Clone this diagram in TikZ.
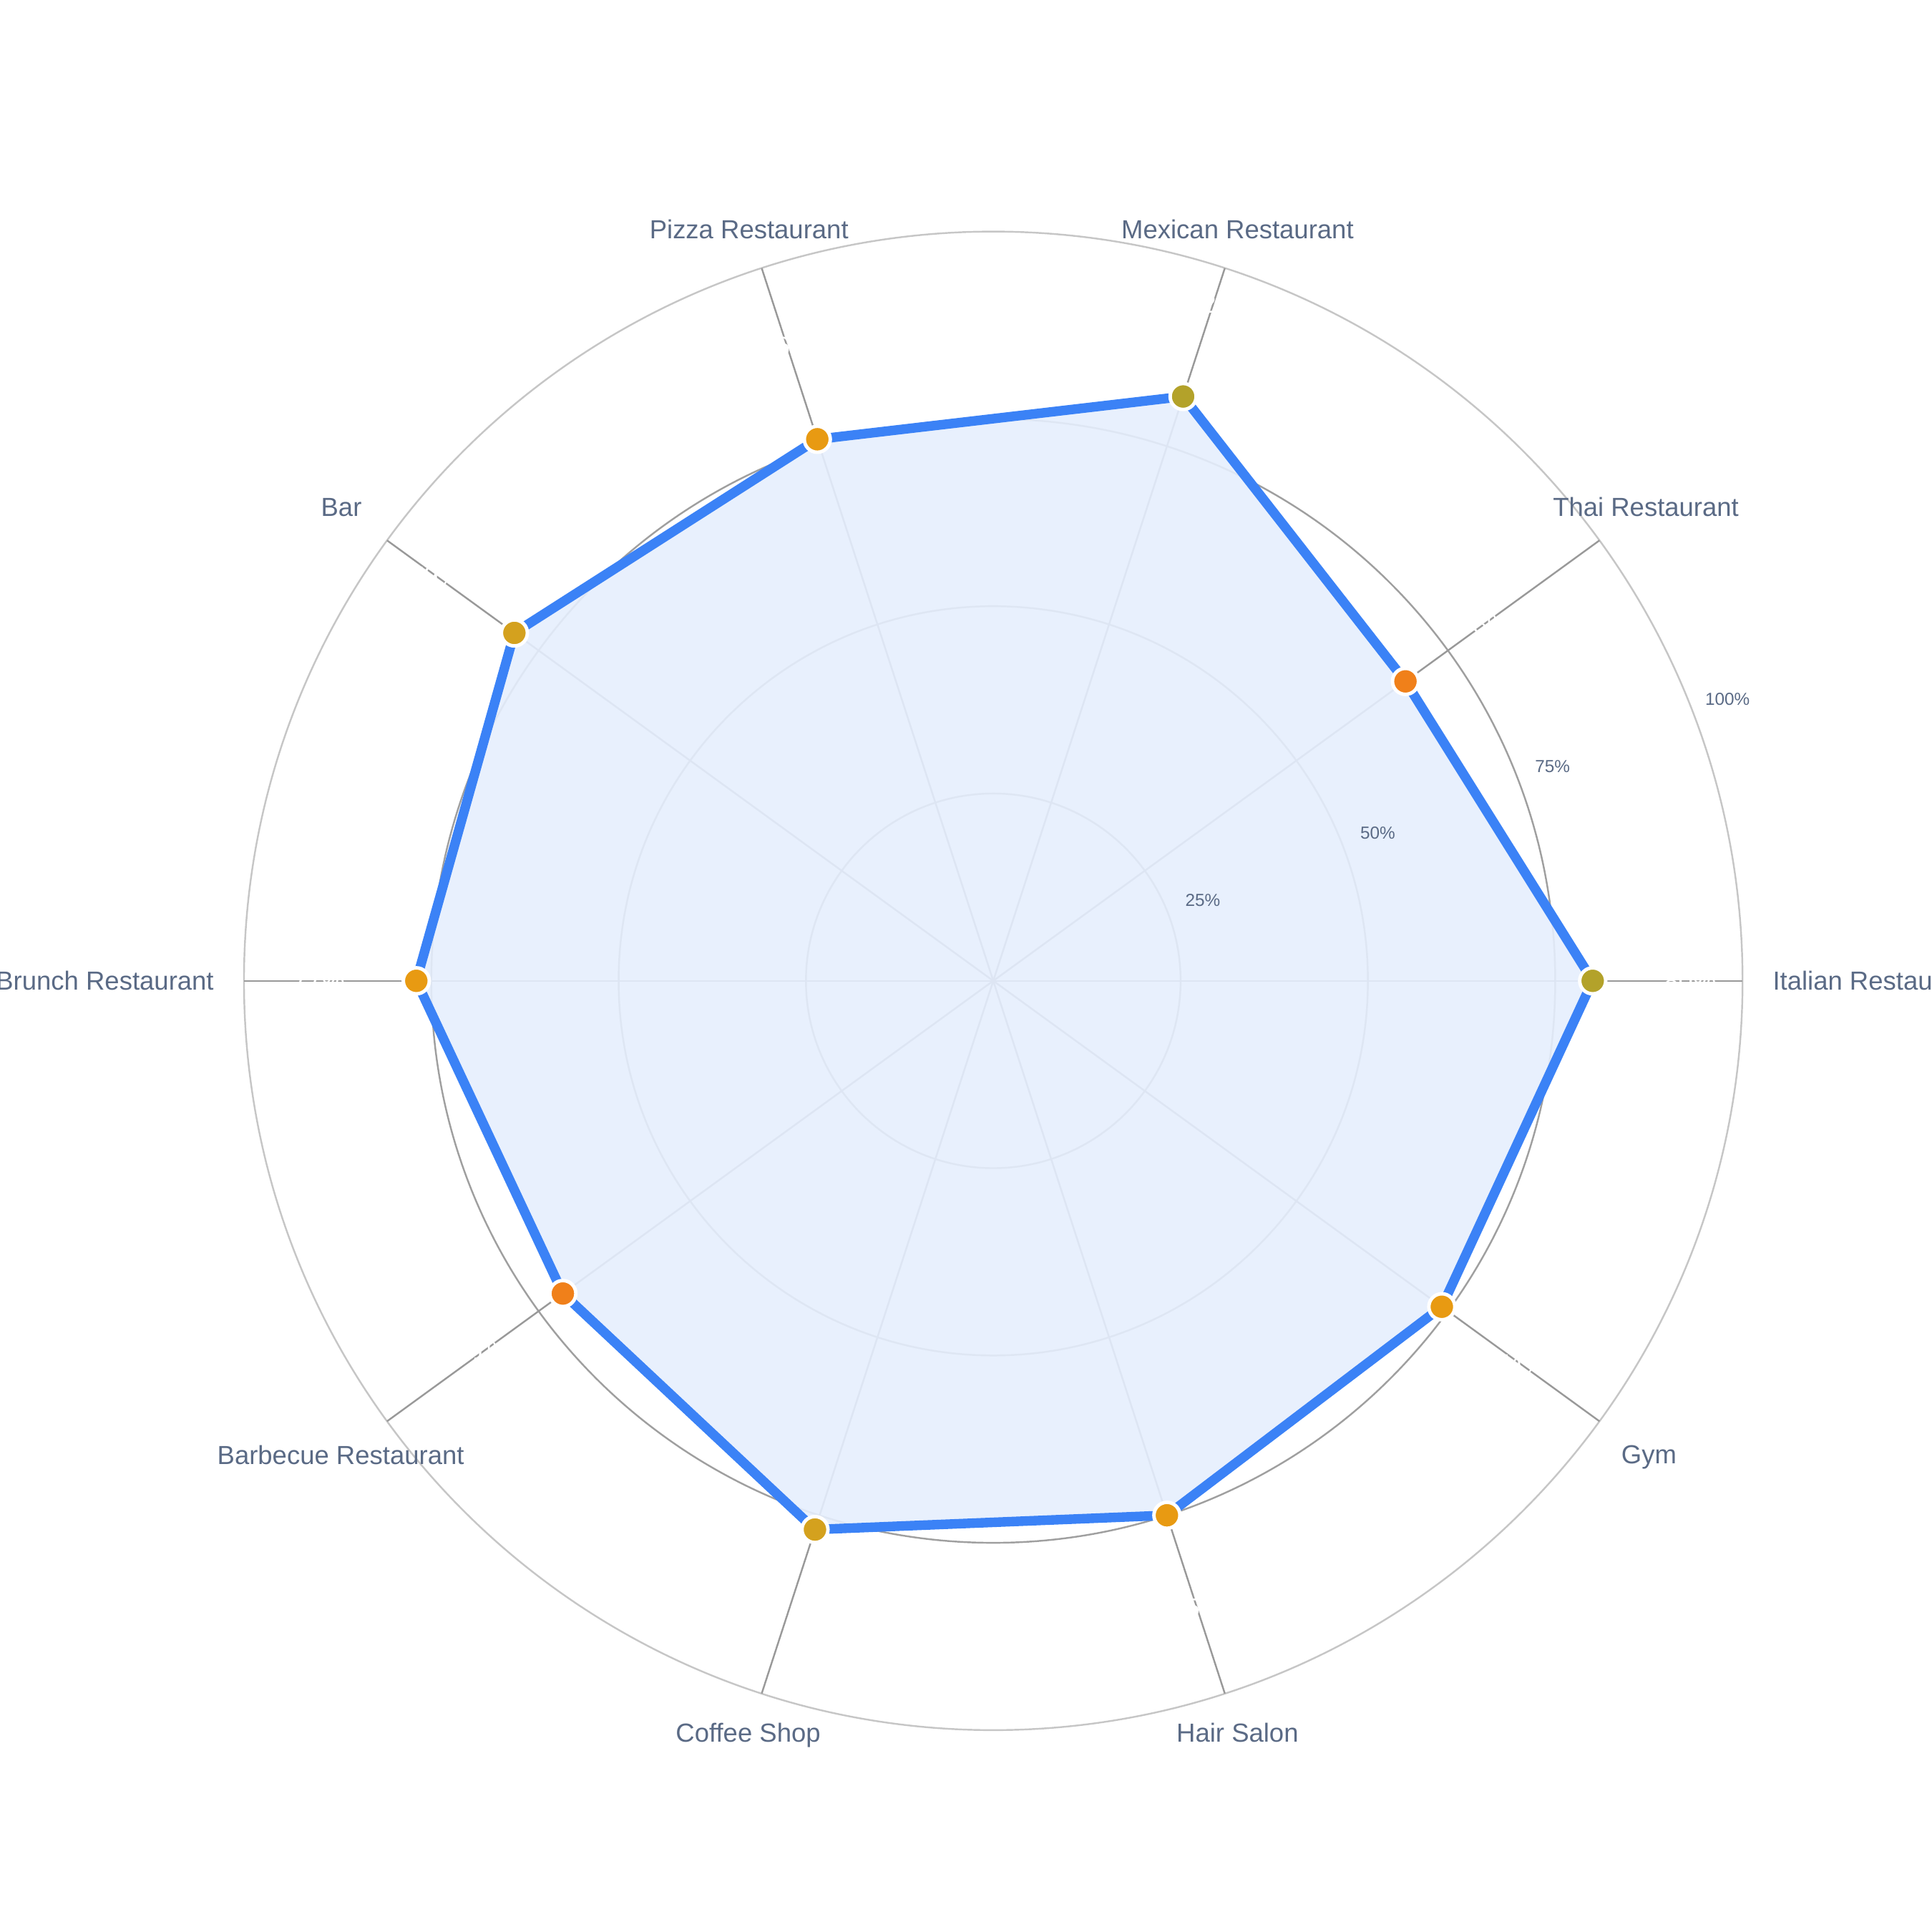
\documentclass[tikz,border=0pt]{standalone}
\usepackage{fontspec}
\setmainfont{Liberation Sans}
\usetikzlibrary{calc}
\definecolor{axislbl}{HTML}{5A6A85}
\definecolor{lineblue}{HTML}{3B82F6}
\definecolor{fillblue}{HTML}{E5EEFD}
\definecolor{ptolive}{HTML}{B3A22A}
\definecolor{ptorange}{HTML}{F0801A}
\definecolor{ptamber}{HTML}{E89A12}
\definecolor{ptgold}{HTML}{D4A11E}
\tikzset{
  ring/.style={draw=gray!75, line width=0.4pt},
  outerring/.style={draw=gray!45, line width=0.4pt},
  spoke/.style={draw=gray!80, line width=0.4pt},
  catlabel/.style={text=axislbl, font=\fontsize{6}{7}\selectfont},
  ticklabel/.style={text=axislbl, font=\fontsize{4}{5}\selectfont},
  vallabel/.style={text=white, font=\fontsize{6}{7}\selectfont},
  dot/.style={circle, draw=white, line width=0.8pt, minimum size=2.1mm, inner sep=0pt}
}
\begin{document}
\begin{tikzpicture}
\useasboundingbox (0,0) rectangle (15.6,15.6);
\coordinate (c) at (8.02,7.68);
\def\R{6.05}
% grid
\draw[outerring] (c) circle (\R);
\foreach \f in {0.25,0.5,0.75}
  \draw[ring] (c) circle ({\f*\R});
\foreach \a in {0,36,...,324}
  \draw[spoke] (c) -- ++(\a:\R);
% data
\fill[fillblue, fill opacity=0.9] ($(c)+(0:0.80*\R)$)
  \foreach \a/\v in {36/0.68,72/0.82,108/0.76,144/0.79,180/0.77,216/0.71,252/0.77,288/0.75,324/0.74}
  { -- ($(c)+(\a:\v*\R)$) } -- cycle;
\foreach \f/\t in {0.25/25\%,0.5/50\%,0.75/75\%,1/100\%}
  \node[ticklabel] (tick\f) at ($(c)+(21:{\f*\R+0.3})$) {\t};
\draw[lineblue, line width=2.2pt, line join=round] ($(c)+(0:0.80*\R)$)
  \foreach \a/\v in {36/0.68,72/0.82,108/0.76,144/0.79,180/0.77,216/0.71,252/0.77,288/0.75,324/0.74}
  { -- ($(c)+(\a:\v*\R)$) } -- cycle;
\foreach \a/\v/\col/\n in {0/0.80/ptolive/italian,36/0.68/ptorange/thai,72/0.82/ptolive/mexican,
  108/0.76/ptamber/pizza,144/0.79/ptgold/bar,180/0.77/ptamber/brunch,216/0.71/ptorange/bbq,
  252/0.77/ptgold/coffee,288/0.75/ptamber/hair,324/0.74/ptamber/gym}{
  \node[dot, fill=\col] (p\n) at ($(c)+(\a:\v*\R)$) {};
  \pgfmathtruncatemacro{\pc}{round(\v*100)}
  \node[vallabel] (v\n) at ($(c)+(\a:{(\v+0.13)*\R})$) {\pc\%};
}
% category labels
\foreach \a/\t/\n in {0/Italian Restaurant/italian,36/Thai Restaurant/thai,72/Mexican Restaurant/mexican,
  108/Pizza Restaurant/pizza,144/Bar/bar,180/Brunch Restaurant/brunch,216/Barbecue Restaurant/bbq,
  252/Coffee Shop/coffee,288/Hair Salon/hair,324/Gym/gym}
  \node[catlabel, anchor={\a+180}] (l\n) at ($(c)+(\a:{\R+0.12})$) {\t};
\end{tikzpicture}
\end{document}
